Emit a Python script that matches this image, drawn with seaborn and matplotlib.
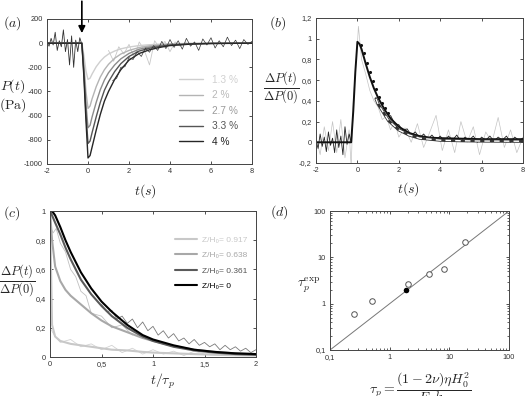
import numpy as np
import matplotlib
matplotlib.use("Agg")
import matplotlib.pyplot as plt
import seaborn as sns

sns.set_theme(style="ticks")
plt.rcParams['font.family'] = ['Liberation Sans', 'DejaVu Sans']
plt.rcParams['mathtext.fontset'] = 'cm'
plt.rcParams['axes.unicode_minus'] = False

# ---------------- panel (a): pressure drop P(t) for several strains
t_a = [-2, -0.3, -0.2, -0.1, 0.0, 0.1, 0.2, 0.4, 0.6, 0.8, 1.0, 1.3, 1.6, 2.0, 2.5, 3.0, 3.5, 4.0, 5.0, 6.0, 8.0]
p_40 = [0, 0, -280, -640, -950, -930, -860, -720, -590, -480, -400, -300, -220, -140, -85, -55, -35, -20, -8, -3, 0]
p_33 = [0, 0, -250, -580, -830, -810, -740, -610, -490, -390, -320, -235, -170, -110, -65, -42, -27, -16, -6, -2, 0]
p_27 = [0, 0, -220, -500, -700, -680, -610, -490, -385, -305, -245, -180, -130, -85, -50, -32, -20, -12, -5, -2, 0]
p_20 = [0, 0, -170, -400, -540, -520, -460, -360, -280, -220, -175, -125, -90, -60, -36, -22, -14, -8, -3, -1, 0]
p_13 = [0, 0, -100, -230, -300, -290, -255, -195, -150, -115, -90, -65, -47, -32, -20, -13, -8, -5, -2, -1, 0]
strain_labels = ['1.3 %', '2 %', '2.7 %', '3.3 %', '4 %']
strain_colors = ['#cfcfcf', '#b4b4b4', '#8c8c8c', '#555555', '#262626']

# raw (noisy) signal, baseline + tail
t_raw_a = [-2.0, -1.9, -1.8, -1.7, -1.6, -1.5, -1.4, -1.3, -1.2, -1.1, -1.0, -0.9, -0.8, -0.7, -0.6, -0.5, -0.4, -0.3]
p_raw_a = [10, -25, 40, -15, 90, -60, 20, -30, 110, -70, 30, -180, 60, -200, 25, -70, 45, -10]
t_tail_a = [1.2, 1.4, 1.6, 1.8, 2.0, 2.2, 2.4, 2.6, 2.8, 3.0, 3.2, 3.4, 3.6, 3.8, 4.0, 4.2, 4.4, 4.6,
            4.8, 5.0, 5.2, 5.4, 5.6, 5.8, 6.0, 6.2, 6.4, 6.6, 6.8, 7.0, 7.2, 7.4, 7.6, 7.8, 8.0]
p_tail_a = [-310, -290, -200, -195, -120, -135, -70, -110, -40, -75, -20, -60, 15, -45, 30, -35, 20, -50,
            40, -25, 10, -60, 35, -15, 45, -40, 20, -30, 50, -20, 25, -45, 30, -10, 15]
t_light_a = [1.0, 1.25, 1.5, 1.75, 2.0, 2.25, 2.5, 2.75, 3.0, 3.25, 3.5, 3.75, 4.0, 4.25, 4.5, 4.75, 5.0]
p_light_a = [-60, -150, -30, -90, -10, -120, 10, -60, -180, 20, -40, 15, -70, 10, -25, 5, -10]

# ---------------- panel (b): normalised pressure
t_b = [-2, -0.3, -0.2, -0.1, 0.0, 0.1, 0.2, 0.4, 0.6, 0.8, 1.0, 1.3, 1.6, 2.0, 2.5, 3.0, 3.5, 4.0, 5.0, 6.0, 8.0]
dp_b = [0, 0, 0.3, 0.68, 0.97, 0.95, 0.9, 0.76, 0.63, 0.52, 0.43, 0.32, 0.23, 0.15, 0.09, 0.06, 0.045, 0.04, 0.035, 0.03, 0.03]
t_fit_b = [0.9, 1.0, 1.5, 2.0, 2.5, 3.0, 4.0, 5.0, 6.0, 8.0]
dp_fit_b = [0.42, 0.37, 0.21, 0.12, 0.07, 0.04, 0.02, 0.015, 0.012, 0.01]
t_dots_b = [0.15, 0.3, 0.45, 0.6, 0.75, 0.9, 1.05, 1.2, 1.35, 1.5]
dp_dots_b = [0.94, 0.86, 0.77, 0.68, 0.59, 0.51, 0.44, 0.38, 0.33, 0.28]
t_raw_b = [-2.0, -1.8, -1.6, -1.4, -1.2, -1.0, -0.8, -0.6, -0.4, -0.3, -0.2, 0.0, 0.05, 0.2, 0.4, 0.6,
           0.8, 1.0, 1.2, 1.4, 1.6, 1.8, 2.0, 2.3, 2.6, 2.9, 3.2, 3.5, 3.8, 4.1, 4.4, 4.7, 5.0, 5.3,
           5.6, 5.9, 6.2, 6.5, 6.8, 7.1, 7.4, 7.7, 8.0]
dp_raw_b = [0.05, -0.12, 0.15, -0.08, 0.2, -0.1, 0.22, -0.15, 0.12, -0.25, 0.4, 0.95, 1.12, 0.8, 0.66, 0.5,
            0.4, 0.34, 0.22, 0.25, 0.12, 0.2, 0.05, 0.14, 0.0, 0.18, -0.05, 0.1, 0.26, -0.08, 0.12, -0.1,
            0.2, 0.0, 0.15, -0.12, 0.1, 0.0, 0.24, -0.05, 0.12, -0.1, 0.05]
t_base_b = [-2.0, -1.9, -1.8, -1.7, -1.6, -1.5, -1.4, -1.3, -1.2, -1.1, -1.0, -0.9, -0.8, -0.7, -0.6, -0.5, -0.4, -0.3]
dp_base_b = [0.02, -0.06, 0.08, -0.04, 0.05, -0.09, 0.1, -0.03, 0.04, -0.1, 0.12, -0.05, 0.06, -0.12, 0.15, -0.02, 0.08, 0.0]
t_tail_b = [1.6, 1.8, 2.0, 2.2, 2.4, 2.6, 2.8, 3.0, 3.2, 3.4, 3.6, 3.8, 4.0, 4.2, 4.4, 4.6, 4.8, 5.0, 5.2,
            5.4, 5.6, 5.8, 6.0, 6.2, 6.4, 6.6, 6.8, 7.0, 7.2, 7.4, 7.6, 7.8, 8.0]
dp_tail_b = [0.26, 0.18, 0.17, 0.11, 0.13, 0.07, 0.1, 0.04, 0.08, 0.03, 0.07, 0.02, 0.06, 0.01, 0.06, 0.02,
             0.07, 0.01, 0.05, 0.02, 0.06, 0.0, 0.05, 0.02, 0.06, 0.01, 0.05, 0.02, 0.06, 0.0, 0.05, 0.02, 0.04]

# ---------------- panel (c): normalised relaxation vs t/tau_p at several depths
t_c = [0, 0.02, 0.05, 0.1, 0.15, 0.2, 0.3, 0.4, 0.5, 0.6, 0.75, 0.9, 1.0, 1.2, 1.4, 1.6, 1.8, 2.0]
z_0 = [1.0, 1.0, 0.97, 0.89, 0.8, 0.72, 0.58, 0.47, 0.38, 0.31, 0.22, 0.15, 0.12, 0.08, 0.05, 0.035, 0.025, 0.02]
z_361 = [1.0, 0.97, 0.92, 0.84, 0.75, 0.67, 0.53, 0.43, 0.35, 0.28, 0.2, 0.14, 0.11, 0.07, 0.045, 0.03, 0.02, 0.015]
z_638 = [1.0, 0.8, 0.62, 0.52, 0.46, 0.42, 0.36, 0.3, 0.25, 0.21, 0.17, 0.13, 0.11, 0.075, 0.05, 0.035, 0.025, 0.02]
z_917 = [1.0, 0.22, 0.14, 0.11, 0.1, 0.09, 0.08, 0.07, 0.06, 0.05, 0.045, 0.035, 0.03, 0.025, 0.02, 0.015, 0.012, 0.01]
depth_labels = ['Z/H₀= 0.917', 'Z/H₀= 0.638', 'Z/H₀= 0.361', 'Z/H₀= 0']
depth_colors = ['#c8c8c8', '#a8a8a8', '#5a5a5a', '#000000']
t_raw_c = [0.5, 0.55, 0.6, 0.65, 0.7, 0.75, 0.8, 0.85, 0.9, 0.95, 1.0, 1.05, 1.1, 1.15, 1.2, 1.25, 1.3,
           1.35, 1.4, 1.45, 1.5, 1.55, 1.6, 1.65, 1.7, 1.75, 1.8, 1.85, 1.9, 1.95, 2.0]
dp_raw_c = [0.36, 0.31, 0.32, 0.26, 0.28, 0.23, 0.26, 0.2, 0.24, 0.18, 0.21, 0.15, 0.18, 0.13, 0.16, 0.11, 0.13,
            0.09, 0.12, 0.08, 0.1, 0.07, 0.09, 0.05, 0.08, 0.05, 0.07, 0.04, 0.06, 0.03, 0.05]
t_raw_c2 = [0.0, 0.05, 0.1, 0.2, 0.3, 0.4, 0.5, 0.6, 0.7, 0.8, 0.9, 1.0, 1.1, 1.2, 1.3, 1.4, 1.5, 1.6, 1.7, 1.8, 1.9, 2.0]
dp_raw_c2 = [0.2, 0.14, 0.1, 0.12, 0.07, 0.09, 0.05, 0.08, 0.03, 0.06, 0.02, 0.05, 0.02, 0.04, 0.01, 0.04, 0.02, 0.03, 0.01, 0.03, 0.01, 0.02]
t_raw_c3 = [0.0, 0.03, 0.06, 0.1, 0.15, 0.2, 0.25, 0.3, 0.35, 0.4, 0.5, 0.6, 0.7, 0.8]
dp_raw_c3 = [0.9, 0.85, 0.88, 0.78, 0.72, 0.6, 0.55, 0.45, 0.42, 0.3, 0.28, 0.2, 0.22, 0.15]

# ---------------- panel (d): measured vs predicted poroelastic time
tau_th_open = [0.25, 0.5, 2.0, 4.5, 8.0, 18.0]
tau_exp_open = [0.6, 1.15, 2.6, 4.4, 5.7, 21.0]
tau_th_full = [1.9]
tau_exp_full = [1.95]
diag = [0.1, 100]

# tick labels (French decimal comma)
a_yticks = [-1000, -800, -600, -400, -200, 0, 200]
ab_xticks = [-2, 0, 2, 4, 6, 8]
b_yticks = [-0.2, 0, 0.2, 0.4, 0.6, 0.8, 1.0, 1.2]
b_ylabels = ['-0,2', '0', '0,2', '0,4', '0,6', '0,8', '1', '1,2']
c_xticks = [0, 0.5, 1, 1.5, 2]
c_xlabels = ['0', '0,5', '1', '1,5', '2']
c_yticks = [0, 0.2, 0.4, 0.6, 0.8, 1.0]
c_ylabels = ['0', '0,2', '0,4', '0,6', '0,8', '1']
d_ticks = [0.1, 1, 10, 100]
d_labels = ['0,1', '1', '10', '100']

W, H = 526, 396
fig = plt.figure(figsize=(W / 100, H / 100), dpi=100)


def box(l, t, r, b):
    return [l / W, 1 - b / H, (r - l) / W, (b - t) / H]


ax_a = fig.add_axes(box(47, 19, 252, 164))
ax_b = fig.add_axes(box(316, 18, 523, 163))
ax_c = fig.add_axes(box(50, 211, 256, 357))
ax_d = fig.add_axes(box(330, 211, 509, 350))

for ax in (ax_a, ax_b, ax_c, ax_d):
    ax.tick_params(direction='in', top=True, right=True, length=2.5, width=0.6,
                   labelsize=5.3, colors='#333333', pad=3)
    for s in ax.spines.values():
        s.set_linewidth(0.7)
        s.set_color('#444444')

# (a)
sns.lineplot(x=t_raw_a, y=p_raw_a, ax=ax_a, color='#333333', lw=0.6, estimator=None, sort=False)
sns.lineplot(x=t_light_a, y=p_light_a, ax=ax_a, color='#c8c8c8', lw=0.6, estimator=None, sort=False)
for ys, lab, col in zip([p_13, p_20, p_27, p_33, p_40], strain_labels, strain_colors):
    sns.lineplot(x=t_a, y=ys, ax=ax_a, color=col, lw=1.0, label=lab, estimator=None, sort=False)
sns.lineplot(x=t_tail_a, y=p_tail_a, ax=ax_a, color='#333333', lw=0.5, estimator=None, sort=False)
ax_a.set_xlim(-2, 8)
ax_a.set_ylim(-1000, 200)
ax_a.set_xticks(ab_xticks)
ax_a.set_yticks(a_yticks)
ax_a.legend(loc='upper left', bbox_to_anchor=(0.6, 0.68), frameon=False, fontsize=7.3,
            handlelength=2.4, labelspacing=0.55, labelcolor=['#d0d0d0', '#b8b8b8', '#9a9a9a', '#555555', '#222222'])
ax_a.annotate('', xy=(-0.3, 60), xytext=(-0.3, 370), annotation_clip=False,
              arrowprops=dict(arrowstyle='-|>', color='black', lw=1.2, mutation_scale=10))

# (b)
sns.lineplot(x=t_raw_b, y=dp_raw_b, ax=ax_b, color='#c4c4c4', lw=0.5, estimator=None, sort=False)
sns.lineplot(x=t_base_b, y=dp_base_b, ax=ax_b, color='#222222', lw=0.6, estimator=None, sort=False)
sns.lineplot(x=t_tail_b, y=dp_tail_b, ax=ax_b, color='#222222', lw=0.6, estimator=None, sort=False)
sns.lineplot(x=t_b, y=dp_b, ax=ax_b, color='#111111', lw=1.4, estimator=None, sort=False)
sns.lineplot(x=t_fit_b, y=dp_fit_b, ax=ax_b, color='#333333', lw=2.2, estimator=None, sort=False)
sns.lineplot(x=t_fit_b, y=dp_fit_b, ax=ax_b, color='white', lw=1.0, linestyle=(0, (4, 3)),
             estimator=None, sort=False)
sns.scatterplot(x=t_dots_b, y=dp_dots_b, ax=ax_b, color='#111111', s=5, linewidth=0)
ax_b.set_xlim(-2, 8)
ax_b.set_ylim(-0.2, 1.2)
ax_b.set_xticks(ab_xticks)
ax_b.set_yticks(b_yticks)
ax_b.set_yticklabels(b_ylabels)

# (c)
sns.lineplot(x=t_raw_c2, y=dp_raw_c2, ax=ax_c, color='#d2d2d2', lw=0.6, estimator=None, sort=False)
sns.lineplot(x=t_raw_c3, y=dp_raw_c3, ax=ax_c, color='#c0c0c0', lw=0.6, estimator=None, sort=False)
sns.lineplot(x=t_raw_c, y=dp_raw_c, ax=ax_c, color='#7a7a7a', lw=0.6, estimator=None, sort=False)
for ys, lab, col in zip([z_917, z_638, z_361, z_0], depth_labels, depth_colors):
    sns.lineplot(x=t_c, y=ys, ax=ax_c, color=col, lw=1.5, label=lab, estimator=None, sort=False)
ax_c.set_xlim(0, 2)
ax_c.set_ylim(0, 1)
ax_c.set_xticks(c_xticks)
ax_c.set_xticklabels(c_xlabels)
ax_c.set_yticks(c_yticks)
ax_c.set_yticklabels(c_ylabels)
ax_c.legend(loc='upper left', bbox_to_anchor=(0.57, 0.88), frameon=False, fontsize=6.0,
            handlelength=2.6, handletextpad=0.6, labelspacing=0.9,
            labelcolor=['#c8c8c8', '#a8a8a8', '#555555', '#000000'])

# (d)
sns.lineplot(x=diag, y=diag, ax=ax_d, color='#777777', lw=0.7)
sns.scatterplot(x=tau_th_open, y=tau_exp_open, ax=ax_d, facecolor='white', edgecolor='#555555',
                s=16, linewidth=0.7, zorder=3)
sns.scatterplot(x=tau_th_full, y=tau_exp_full, ax=ax_d, color='black', s=16, linewidth=0, zorder=3)
ax_d.set_xscale('log')
ax_d.set_yscale('log')
ax_d.set_xlim(0.1, 100)
ax_d.set_ylim(0.1, 100)
ax_d.set_xticks(d_ticks)
ax_d.set_xticklabels(d_labels)
ax_d.set_yticks(d_ticks)
ax_d.set_yticklabels(d_labels)
ax_d.tick_params(which='minor', direction='in', top=True, right=True, length=1.5, width=0.5)

for ax in (ax_a, ax_b, ax_c, ax_d):
    ax.set_xlabel('')
    ax.set_ylabel('')


def ftext(x, y, s, size=10, **kw):
    fig.text(x / W, 1 - y / H, s, fontsize=size, ha='center', va='center', **kw)


ftext(12, 23, '$(a)$')
ftext(278, 23, '$(b)$')
ftext(12, 213, '$(c)$')
ftext(279, 212, '$(d)$')
ftext(13, 86, '$P(t)$')
ftext(13, 105, r'$(\mathrm{Pa})$')
ftext(145, 191, '$t(s)$')
ftext(408, 189, '$t(s)$')
ftext(281, 88, r'$\dfrac{\Delta P(t)}{\Delta P(0)}$', size=9)
ftext(17, 281, r'$\dfrac{\Delta P(t)}{\Delta P(0)}$', size=9)
ftext(162, 381, r'$t/\tau_p$')
ftext(309, 285, r'$\tau_p^{\mathrm{exp}}$')
ftext(420, 389, r'$\tau_p = \dfrac{(1-2\nu)\eta H_0^2}{E_0 k_0}$', size=10)

fig.savefig('out.png', dpi=100)
